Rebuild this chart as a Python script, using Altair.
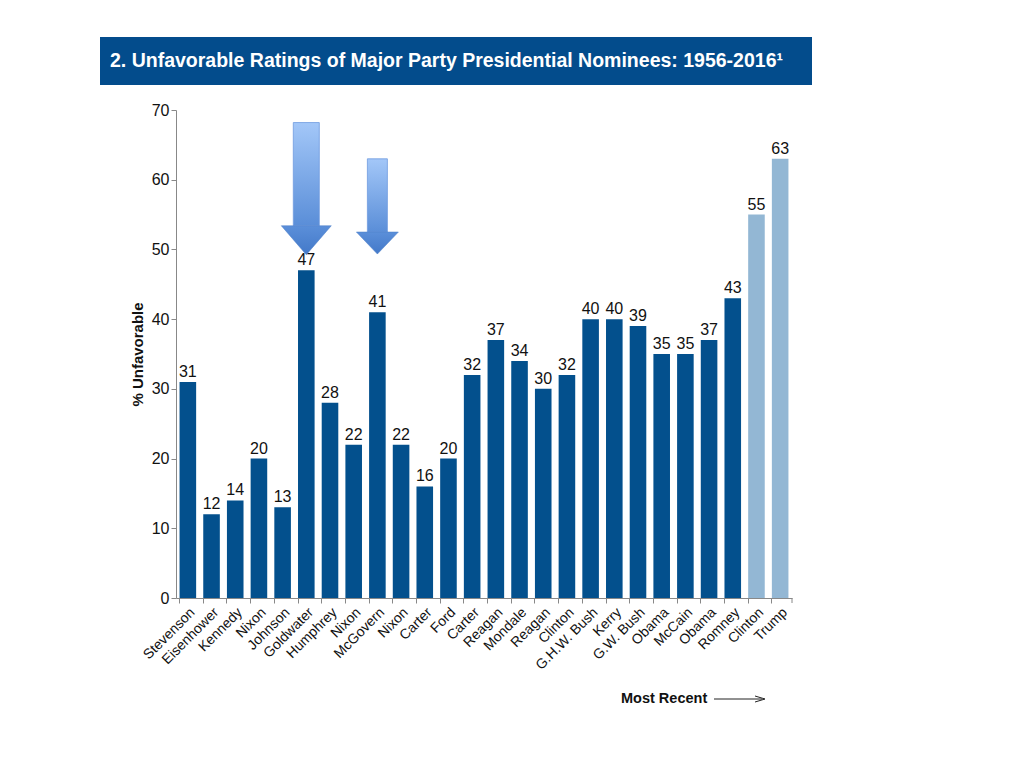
import altair as alt
import pandas as pd

names = ["Stevenson", "Eisenhower", "Kennedy", "Nixon", "Johnson", "Goldwater",
         "Humphrey", "Nixon", "McGovern", "Nixon", "Carter", "Ford", "Carter",
         "Reagan", "Mondale", "Reagan", "Clinton", "G.H.W. Bush", "Kerry",
         "G.W. Bush", "Obama", "McCain", "Obama", "Romney", "Clinton", "Trump"]
values = [31, 12, 14, 20, 13, 47, 28, 22, 41, 22, 16, 20, 32, 37, 34, 30, 32,
          40, 40, 39, 35, 35, 37, 43, 55, 63]
groups = ["past"] * 24 + ["2016"] * 2

keys = [f"{i:02d}|{n}" for i, n in enumerate(names)]

# arrows (annotation): category index, top, neck
arrow_idx = [5, 8]
arrow_top = [68.2, 63.0]
arrow_neck = [53.4, 52.5]
shaft_w = [26, 20]
head_w = [50, 42]
head_path = ["M-1,0 L1,0 L0,1.16 Z", "M-1,0 L1,0 L0,1.05 Z"]

title_text = "2. Unfavorable Ratings of Major Party Presidential Nominees: 1956-2016\u00b9"

df = pd.DataFrame({"key": keys, "value": values, "group": groups})

DARK = "#03508d"
LIGHT = "#93b7d4"
FONT = "Liberation Sans Narrow, Arial Narrow, Liberation Sans, Arial"

yscale = alt.Scale(domain=[0, 70])

bars = alt.Chart(df).mark_bar().encode(
    x=alt.X("key:N", sort=None, title=None,
            scale=alt.Scale(paddingInner=0.3, paddingOuter=0.15),
            axis=alt.Axis(labelExpr="split(datum.label, '|')[1]", labelAngle=-45,
                          labelFont=FONT, labelFontSize=14, labelColor="#111",
                          domainColor="#888", tickColor="#888", tickSize=5,
                          bandPosition=0, labelPadding=2)),
    y=alt.Y("value:Q", scale=yscale, title="% Unfavorable",
            axis=alt.Axis(values=list(range(0, 71, 10)), grid=False,
                          labelFont=FONT, labelFontSize=16, labelColor="#111",
                          domainColor="#888", tickColor="#888", tickSize=5,
                          titleFont="Liberation Sans", titleFontSize=15,
                          titleFontWeight="bold", titleColor="#111",
                          titlePadding=6)),
    color=alt.Color("group:N", scale=alt.Scale(domain=["past", "2016"], range=[DARK, LIGHT]),
                    legend=None),
)

labels = alt.Chart(df).mark_text(dy=-10, font=FONT, fontSize=16, color="#111").encode(
    x=alt.X("key:N", sort=None),
    y=alt.Y("value:Q", scale=yscale),
    text="value:Q",
)

grad = alt.Gradient(gradient="linear",
                    stops=[alt.GradientStop(color="#a3c7f8", offset=0),
                           alt.GradientStop(color="#5a8ed8", offset=1)],
                    x1=0, x2=0, y1=0, y2=1)
headgrad = alt.Gradient(gradient="linear",
                        stops=[alt.GradientStop(color="#5b8fd9", offset=0),
                               alt.GradientStop(color="#4379c9", offset=1)],
                        x1=0, x2=0, y1=0, y2=1)

arrow_layers = []
for i in range(len(arrow_idx)):
    adf = pd.DataFrame({"key": [keys[arrow_idx[i]]], "top": [arrow_top[i]],
                        "neck": [arrow_neck[i]]})
    shaft = alt.Chart(adf).mark_bar(size=shaft_w[i], color=grad, stroke="#6f9be0",
                                    strokeWidth=0.8).encode(
        x=alt.X("key:N", sort=None),
        y=alt.Y("top:Q", scale=yscale),
        y2="neck:Q",
    )
    head = alt.Chart(adf).mark_point(shape=head_path[i], size=head_w[i] ** 2, filled=True,
                                     fill=headgrad, opacity=1, stroke="#4a7cc6",
                                     strokeWidth=0.5).encode(
        x=alt.X("key:N", sort=None),
        y=alt.Y("neck:Q", scale=yscale),
    )
    arrow_layers += [shaft, head]

anno = pd.DataFrame({"t": [title_text]})
title_rect = alt.Chart(anno).mark_rect(color="#034c8c").encode(
    x=alt.value(-76), x2=alt.value(636), y=alt.value(-73), y2=alt.value(-25))
title_txt = alt.Chart(anno).mark_text(align="left", baseline="middle", font=FONT,
                                      fontSize=19.5, fontWeight="bold", color="white").encode(
    x=alt.value(-66), y=alt.value(-49), text="t:N")

end_tick = alt.Chart(anno).mark_rule(color="#888").encode(
    x=alt.value(616), y=alt.value(488), y2=alt.value(493))

mr = pd.DataFrame({"t": ["Most Recent"]})
mr_txt = alt.Chart(mr).mark_text(align="left", baseline="middle", font=FONT, fontSize=14.5,
                                 fontWeight="bold", color="#111").encode(
    x=alt.value(445), y=alt.value(589), text="t:N")
mr_line = alt.Chart(mr).mark_rule(color="#222", strokeWidth=1).encode(
    x=alt.value(538), x2=alt.value(586), y=alt.value(589))
mr_head = alt.Chart(mr).mark_point(shape="M-1,-0.6 L1,0 L-1,0.6", size=100, filled=False,
                                   color="#222", strokeWidth=1, opacity=1).encode(
    x=alt.value(584), y=alt.value(589))

chart = alt.layer(bars, labels, *arrow_layers, title_rect, title_txt, end_tick,
                  mr_txt, mr_line, mr_head).properties(
    width=616, height=488, padding={"left": 168, "top": 102, "right": 200, "bottom": 140},
    autosize=alt.AutoSizeParams(type="none"),
).configure_view(stroke=None).configure_axisX(labelBaseline="top")

chart.save("out.html", embed_options={"renderer": "svg", "actions": False})
